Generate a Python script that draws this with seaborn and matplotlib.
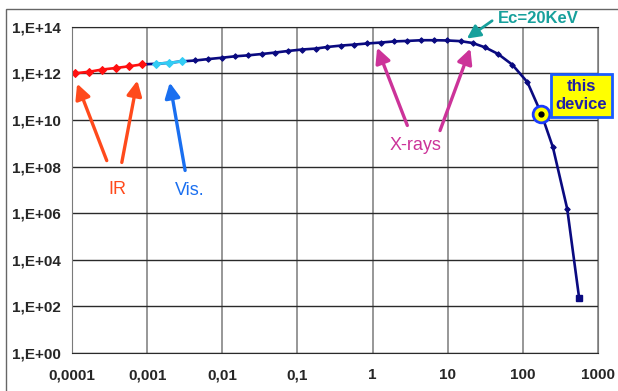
import numpy as np
import pandas as pd
import matplotlib
matplotlib.use("Agg")
import matplotlib.pyplot as plt
import matplotlib.ticker as mticker
from matplotlib.patches import Rectangle
import seaborn as sns

# photon energy (keV) and flux
ir_x = [1.10e-4, 1.70e-4, 2.51e-4, 3.89e-4, 5.75e-4, 8.51e-4]
ir_y = [1.00e12, 1.17e12, 1.45e12, 1.70e12, 2.00e12, 2.40e12]

vis_x = [1.32e-3, 1.95e-3, 2.88e-3]
vis_y = [2.57e12, 2.82e12, 3.24e12]

main_x = [4.37e-3, 6.46e-3, 1.0e-2, 1.48e-2, 2.19e-2, 3.39e-2, 5.01e-2, 7.59e-2,
          0.115, 0.174, 0.251, 0.380, 0.562, 0.851, 1.29, 1.95, 2.88, 4.47,
          6.61, 9.77, 14.8, 21.4, 31.6, 46.8, 72.4, 115, 176, 251, 389, 562]
main_y = [3.55e12, 4.07e12, 4.68e12, 5.37e12, 5.89e12, 6.76e12, 7.76e12, 9.12e12,
          1.05e13, 1.15e13, 1.35e13, 1.55e13, 1.70e13, 1.91e13, 2.09e13, 2.34e13,
          2.45e13, 2.63e13, 2.63e13, 2.57e13, 2.40e13, 2.00e13, 1.29e13, 6.76e12,
          2.34e12, 4.17e11, 1.86e10, 6.76e8, 1.55e6, 219]

device_x, device_y = 176, 1.86e10

x_ticks = [1e-4, 1e-3, 1e-2, 1e-1, 1, 10, 100, 1000]
x_labels = ["0,0001", "0,001", "0,01", "0,1", "1", "10", "100", "1000"]
y_ticks = [1e0, 1e2, 1e4, 1e6, 1e8, 1e10, 1e12, 1e14]
y_labels = ["1,E+00", "1,E+02", "1,E+04", "1,E+06", "1,E+08", "1,E+10", "1,E+12", "1,E+14"]

sns.set_style("white")
plt.rcParams['font.family'] = ['Liberation Sans', 'DejaVu Sans']

fig = plt.figure(figsize=(6.18, 3.91), dpi=100)
ax = fig.add_axes([72/618, 1-353/391, (598-72)/618, (353-26.7)/391])

# outer frame of the pasted chart
fig.patches.append(Rectangle((6/618, -0.2), 1.2, (391-9)/391 + 0.2, transform=fig.transFigure,
                             fill=False, edgecolor="#666666", lw=1))

ax.set_xscale("log")
ax.set_yscale("log")

navy = "#0a0a80"
full = pd.DataFrame({"x": ir_x[-1:] + vis_x + main_x, "y": ir_y[-1:] + vis_y + main_y})
sns.lineplot(data=full, x="x", y="y", ax=ax, color=navy, lw=1.9, marker="D", markersize=2.8,
             markeredgecolor=navy, sort=False)
ax.plot(main_x[-1], main_y[-1], "s", color=navy, ms=4)
sns.lineplot(x=vis_x, y=vis_y, ax=ax, color="#33ccf5", lw=1.9, marker="D", markersize=3.6,
             markeredgecolor="#33ccf5", sort=False)
sns.lineplot(x=ir_x, y=ir_y, ax=ax, color="#ff1010", lw=1.9, marker="D", markersize=3.6,
             markeredgecolor="#ff1010", sort=False)

ax.set_xlim(1e-4, 1e3)
ax.set_ylim(1e0, 1e14)
ax.set_xticks(x_ticks)
ax.set_xticklabels(x_labels, fontweight="bold", fontsize=11)
ax.set_yticks(y_ticks)
ax.set_yticklabels(y_labels, fontweight="bold", fontsize=11)
ax.xaxis.set_minor_locator(mticker.NullLocator())
ax.yaxis.set_minor_locator(mticker.NullLocator())
ax.tick_params(axis="x", length=5, width=1, color="#444444", pad=6)
ax.tick_params(axis="y", length=5, width=1, color="#444444", pad=3)
ax.set_xlabel("")
ax.set_ylabel("")

ax.grid(True, axis="x", color="#7a7a7a", lw=1.1)
ax.grid(True, axis="y", color="#2a2a2a", lw=1.0)
ax.set_axisbelow(True)
ax.spines["left"].set_color("#7a7a7a")
ax.spines["right"].set_color("#7a7a7a")
ax.spines["top"].set_color("#2a2a2a")
ax.spines["bottom"].set_color("#2a2a2a")

def arrow(tail, head, color, lw=2.4, hl=0.9, hw=0.45):
    ax.annotate("", xy=head, xytext=tail,
                arrowprops=dict(arrowstyle=f"-|>,head_length={hl},head_width={hw}", lw=lw,
                                color=color, shrinkA=0, shrinkB=0))

ir_col = "#ff4a1c"
arrow((2.9e-4, 1.8e8), (1.17e-4, 3.6e11), ir_col)
arrow((4.6e-4, 1.5e8), (7.4e-4, 4.9e11), ir_col)
ax.text(4e-4, 1e7, "IR", color=ir_col, fontsize=13, ha="center", va="center")

vis_col = "#1a6ff0"
arrow((3.2e-3, 6.8e7), (2.0e-3, 4.0e11), vis_col)
ax.text(3.7e-3, 9.3e6, "Vis.", color=vis_col, fontsize=13, ha="center", va="center")

x_col = "#cc3399"
arrow((2.9, 5.8e9), (1.15, 1.26e13), x_col)
arrow((7.9, 3.5e9), (20, 1.15e13), x_col)
ax.text(3.7, 8e8, "X-rays", color=x_col, fontsize=13, ha="center", va="center")

ec_col = "#17a09c"
arrow((39, 1.8e14), (18, 3.1e13), ec_col, lw=2.0, hl=0.8, hw=0.4)
ax.text(160, 2.2e14, "Ec=20KeV", color=ec_col, fontsize=12, fontweight="bold",
        ha="center", va="center", clip_on=False)

# marker for this device
ax.plot(device_x, device_y, "o", ms=12, mfc="#ffff00", mec="#1a3cff", mew=2, clip_on=False, zorder=5)
ax.plot(device_x, device_y, "o", ms=3.5, color="black", zorder=6)
ax.text(605, 1.1e11, "this\ndevice", color="#2020a8", fontsize=12, fontweight="bold",
        ha="center", va="center", linespacing=1.2, clip_on=False, zorder=6,
        bbox=dict(boxstyle="square,pad=0.3", fc="#ffff00", ec="#1a5cff", lw=2))

fig.savefig("out.png", dpi=100)
